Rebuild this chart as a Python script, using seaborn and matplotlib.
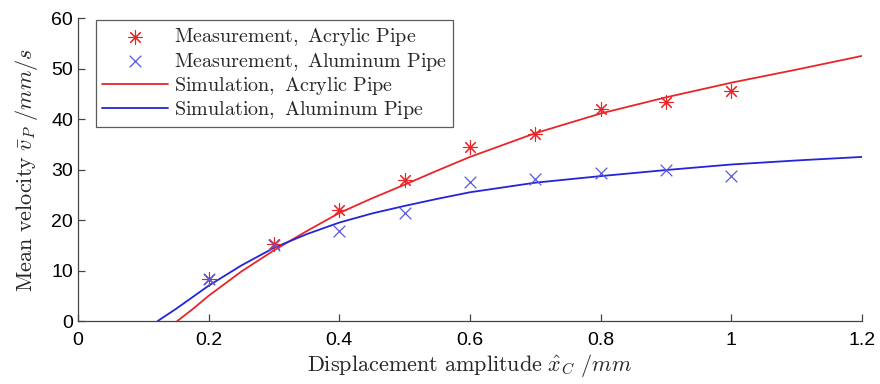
import matplotlib
matplotlib.use("Agg")
import matplotlib.pyplot as plt
import seaborn as sns
import pandas as pd

# ---- measurement data ----
meas_x = [0.2, 0.3, 0.4, 0.5, 0.6, 0.7, 0.8, 0.9, 1.0]
meas_acrylic = [8.3, 15.3, 22.0, 28.0, 34.5, 37.0, 42.0, 43.3, 45.5]
meas_aluminum = [8.3, 15.0, 17.8, 21.3, 27.5, 28.2, 29.3, 30.0, 28.7]

# ---- simulation curves ----
sim_acr_x = [0.152, 0.175, 0.2, 0.25, 0.3, 0.35, 0.4, 0.45, 0.5, 0.55, 0.6, 0.7, 0.8, 0.9, 1.0, 1.1, 1.2]
sim_acr_y = [0.0, 2.3, 5.0, 9.8, 14.0, 17.8, 21.4, 24.3, 27.0, 29.8, 32.5, 37.2, 41.1, 44.3, 47.2, 49.8, 52.5]
sim_alu_x = [0.122, 0.15, 0.2, 0.25, 0.3, 0.35, 0.4, 0.45, 0.5, 0.55, 0.6, 0.7, 0.8, 0.9, 1.0, 1.1, 1.2]
sim_alu_y = [0.0, 2.4, 7.0, 11.0, 14.5, 17.2, 19.5, 21.3, 22.8, 24.2, 25.5, 27.4, 28.7, 29.9, 31.0, 31.8, 32.5]

xticks = [0, 0.2, 0.4, 0.6, 0.8, 1.0, 1.2]
xtick_labels = ["0", "0.2", "0.4", "0.6", "0.8", "1", "1.2"]
yticks = [0, 10, 20, 30, 40, 50, 60]

sns.set_style("ticks")
plt.rcParams['font.family'] = ['Liberation Sans', 'DejaVu Sans']
plt.rcParams['mathtext.fontset'] = 'cm'

meas = pd.DataFrame({'x': meas_x, 'acr': meas_acrylic, 'alu': meas_aluminum})
acr = pd.DataFrame({'x': sim_acr_x, 'y': sim_acr_y})
alu = pd.DataFrame({'x': sim_alu_x, 'y': sim_alu_y})

fig = plt.figure(figsize=(8.8, 3.84), dpi=100)
ax = fig.add_axes([0.0886, 0.164, 0.891, 0.789])

red = '#e8262a'
blue = '#2424d8'

sns.scatterplot(data=meas, x='x', y='acr', ax=ax, marker=(8, 2, 0), s=95,
                color=red, linewidth=0.8, edgecolor=red,
                label=r'$\mathrm{Measurement,\ Acrylic\ Pipe}$', zorder=3)
sns.scatterplot(data=meas, x='x', y='alu', ax=ax, marker='x', s=70,
                color='#5a5ad8', linewidth=0.9,
                label=r'$\mathrm{Measurement,\ Aluminum\ Pipe}$', zorder=3)
sns.lineplot(data=acr, x='x', y='y', ax=ax, color=red, linewidth=1.3,
             label=r'$\mathrm{Simulation,\ Acrylic\ Pipe}$', sort=False)
sns.lineplot(data=alu, x='x', y='y', ax=ax, color=blue, linewidth=1.3,
             label=r'$\mathrm{Simulation,\ Aluminum\ Pipe}$', sort=False)

ax.set_xlim(0, 1.2)
ax.set_ylim(0, 60)
ax.set_xticks(xticks)
ax.set_xticklabels(xtick_labels)
ax.set_yticks(yticks)
ax.tick_params(direction='in', length=5, labelsize=14, colors='#444444',
               labelcolor='black', width=0.9)
ax.tick_params(axis='x', pad=8)
for side in ['left', 'bottom']:
    ax.spines[side].set_color('#444444')
    ax.spines[side].set_linewidth(0.9)
sns.despine(ax=ax)

ax.set_xlabel(r'$\mathrm{Displacement\ amplitude}\ \hat{x}_C\ /mm$', fontsize=16, labelpad=2)
ax.set_ylabel(r'$\mathrm{Mean\ velocity}\ \bar{v}_P\ /mm/s$', fontsize=16, labelpad=8)

leg = ax.legend(loc='upper left', bbox_to_anchor=(0.02, 1.0), fontsize=14.5,
                frameon=True, fancybox=False, edgecolor='#333333',
                handlelength=3.3, handletextpad=0.3, borderpad=0.3,
                labelspacing=0.12, borderaxespad=0.1)
leg.get_frame().set_linewidth(0.9)

fig.savefig('out.png', dpi=100)
